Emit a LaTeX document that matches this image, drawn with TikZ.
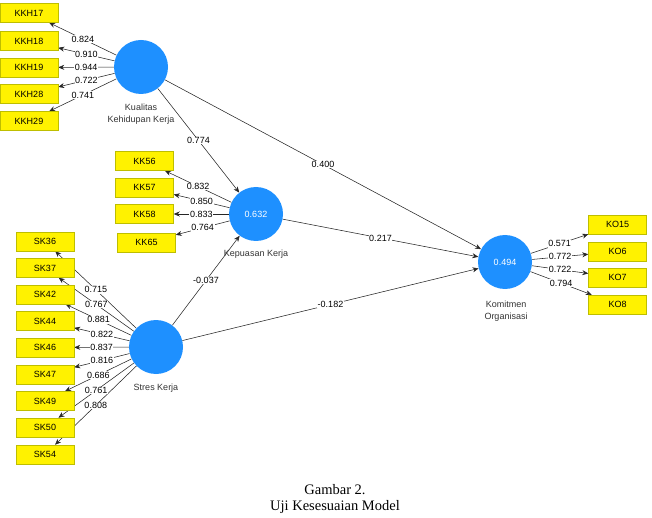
\documentclass[tikz,border=0pt]{standalone}
\usepackage{fontspec}
\setmainfont{Liberation Serif}
\newfontfamily\plsfont{Liberation Sans}
\usetikzlibrary{arrows.meta,backgrounds}
\definecolor{plsblue}{RGB}{30,144,255}
\definecolor{boxedge}{RGB}{190,190,0}
\begin{document}
\begin{tikzpicture}[x=1pt,y=-1pt,
  lv/.style={circle, fill=plsblue, minimum size=54pt, inner sep=0pt, text=white, font=\plsfont\fontsize{9}{10}\selectfont},
  mv/.style={rectangle, fill=yellow, draw=boxedge, line width=0.5pt, minimum width=58pt, minimum height=19pt, inner sep=0pt, font=\plsfont\fontsize{9}{10}\selectfont},
  lnk/.style={draw=black!85, line width=0.55pt, -{Stealth[length=6pt,width=5pt]}},
  lbl/.style={fill=white, inner sep=0.6pt, midway, font=\plsfont\fontsize{9}{10}\selectfont},
  lvname/.style={align=center, text=black!80, font=\plsfont\fontsize{9}{12}\selectfont},
  captxt/.style={align=center, font=\fontsize{14.5}{17}\selectfont}]
\useasboundingbox (0,0) rectangle (652,518);

% latent variables
\node[lv] (KLV) at (141,67) {};
\node[lv] (KEP) at (256,214) {0.632};
\node[lv] (STR) at (156,347) {};
\node[lv] (KOM) at (505,262) {0.494};

\node[lvname] (nKLV) at (141,114) {Kualitas\\Kehidupan Kerja};
\node[lvname] (nKEP) at (256,254) {Kepuasan Kerja};
\node[lvname] (nSTR) at (156,388) {Stres Kerja};
\node[lvname] (nKOM) at (506,311) {Komitmen\\Organisasi};

% indicators
\node[mv] (KKH17) at (29,13) {KKH17};
\node[mv] (KKH18) at (29,41) {KKH18};
\node[mv] (KKH19) at (29,67.5) {KKH19};
\node[mv] (KKH28) at (29,94) {KKH28};
\node[mv] (KKH29) at (29,121) {KKH29};

\node[mv] (KK56) at (144.5,161) {KK56};
\node[mv] (KK57) at (144.5,187.5) {KK57};
\node[mv] (KK58) at (144.5,214) {KK58};
\node[mv] (KK65) at (146.5,242.5) {KK65};

\node[mv] (SK36) at (45,241.5) {SK36};
\node[mv] (SK37) at (45,268) {SK37};
\node[mv] (SK42) at (45,294.5) {SK42};
\node[mv] (SK44) at (45,321) {SK44};
\node[mv] (SK46) at (45,347.5) {SK46};
\node[mv] (SK47) at (45,374.5) {SK47};
\node[mv] (SK49) at (45,401) {SK49};
\node[mv] (SK50) at (45,427.5) {SK50};
\node[mv] (SK54) at (45,454.5) {SK54};

\node[mv] (KO15) at (617.5,224.5) {KO15};
\node[mv] (KO6) at (617.5,251.5) {KO6};
\node[mv] (KO7) at (617.5,277.5) {KO7};
\node[mv] (KO8) at (617.5,304.5) {KO8};

% connectors on background
\begin{pgfonlayer}{background}
\foreach \t in {KKH17,KKH18,KKH19,KKH28,KKH29} \draw[lnk] (KLV) -- (\t);
\foreach \t in {KK56,KK57,KK58,KK65} \draw[lnk] (KEP) -- (\t);
\foreach \t in {SK36,SK37,SK42,SK44,SK46,SK47,SK49,SK50,SK54} \draw[lnk] (STR) -- (\t);
\foreach \t in {KO15,KO6,KO7,KO8} \draw[lnk] (KOM) -- (\t);
\draw[lnk] (KLV) -- (KEP);
\draw[lnk] (KLV) -- (KOM);
\draw[lnk] (KEP) -- (KOM);
\draw[lnk] (STR) -- (KEP);
\draw[lnk] (STR) -- (KOM);
\end{pgfonlayer}

% labels
\path (KLV) -- (KKH17) node[lbl] {0.824};
\path (KLV) -- (KKH18) node[lbl] {0.910};
\path (KLV) -- (KKH19) node[lbl] {0.944};
\path (KLV) -- (KKH28) node[lbl] {0.722};
\path (KLV) -- (KKH29) node[lbl] {0.741};

\path (KEP) -- (KK56) node[lbl] {0.832};
\path (KEP) -- (KK57) node[lbl] {0.850};
\path (KEP) -- (KK58) node[lbl] {0.833};
\path (KEP) -- (KK65) node[lbl] {0.764};

\path (STR) -- (SK36) node[lbl] {0.715};
\path (STR) -- (SK37) node[lbl] {0.767};
\path (STR) -- (SK42) node[lbl] {0.881};
\path (STR) -- (SK44) node[lbl] {0.822};
\path (STR) -- (SK46) node[lbl] {0.837};
\path (STR) -- (SK47) node[lbl] {0.816};
\path (STR) -- (SK49) node[lbl] {0.686};
\path (STR) -- (SK50) node[lbl] {0.761};
\path (STR) -- (SK54) node[lbl] {0.808};

\path (KOM) -- (KO15) node[lbl] {0.571};
\path (KOM) -- (KO6) node[lbl] {0.772};
\path (KOM) -- (KO7) node[lbl] {0.722};
\path (KOM) -- (KO8) node[lbl] {0.794};

\path (KLV) -- (KEP) node[lbl] {0.774};
\path (KLV) -- (KOM) node[lbl] {0.400};
\path (KEP) -- (KOM) node[lbl] {0.217};
\path (STR) -- (KEP) node[lbl] {-0.037};
\path (STR) -- (KOM) node[lbl] {-0.182};

% caption
\node[captxt] (cap1) at (335,490) {Gambar 2.};
\node[captxt] (cap2) at (335,507) {Uji Kesesuaian Model};
\end{tikzpicture}
\end{document}
